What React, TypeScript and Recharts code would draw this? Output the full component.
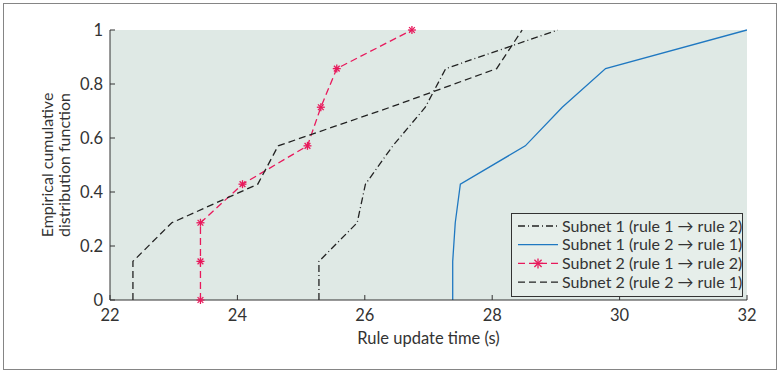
import { LineChart, Line, XAxis, YAxis, CartesianGrid } from 'recharts';

// CDF levels shared by every series (7 samples each)
const cdfLevels = [0, 0.143, 0.286, 0.429, 0.571, 0.714, 0.857, 1];

// update times (s)
const subnet1Rule12 = [25.28, 25.28, 25.88, 26.01, 26.44, 26.95, 27.27, 29.03];
const subnet1Rule21 = [27.38, 27.38, 27.42, 27.5, 28.52, 29.1, 29.78, 32];
const subnet2Rule12 = [23.42, 23.42, 23.42, 24.08, 25.1, 25.31, 25.56, 26.74];
const subnet2Rule21 = [22.36, 22.36, 22.97, 24.32, 24.64, 26.4, 28.07, 28.47];

const xTicks = [22, 24, 26, 28, 30, 32];
const yTicks = [0, 0.2, 0.4, 0.6, 0.8, 1];

const FONT = 'Lato, "Noto Sans", sans-serif';
const PINK = '#e8195c';
const BLUE = '#1f78c1';
const INK = '#222';

const toPts = (xs: number[]) => xs.map((x, i) => ({ x, y: cdfLevels[i] }));

const series = [
  { name: 'Subnet 1 (rule 1 \u2192 rule 2)', data: toPts(subnet1Rule12), color: INK, dash: '7 3 1 3', star: false },
  { name: 'Subnet 1 (rule 2 \u2192 rule 1)', data: toPts(subnet1Rule21), color: BLUE, dash: undefined, star: false },
  { name: 'Subnet 2 (rule 1 \u2192 rule 2)', data: toPts(subnet2Rule12), color: PINK, dash: '7 4', star: true },
  { name: 'Subnet 2 (rule 2 \u2192 rule 1)', data: toPts(subnet2Rule21), color: INK, dash: '7 4', star: false },
];

function Star({ cx, cy, color, r = 4 }: { cx: number; cy: number; color: string; r?: number }) {
  const d = r * 0.72;
  return (
    <g stroke={color} strokeWidth={1.3}>
      <line x1={cx - r} y1={cy} x2={cx + r} y2={cy} />
      <line x1={cx} y1={cy - r} x2={cx} y2={cy + r} />
      <line x1={cx - d} y1={cy - d} x2={cx + d} y2={cy + d} />
      <line x1={cx - d} y1={cy + d} x2={cx + d} y2={cy - d} />
    </g>
  );
}

function StarDot(props: any) {
  const { cx, cy, index } = props;
  if (cx == null || cy == null) return <g key={index} />;
  return <Star key={index} cx={cx} cy={cy} color={PINK} />;
}

function LegendBox() {
  return (
    <div style={{ position: 'absolute', left: 511, top: 213, width: 232, height: 84, boxSizing: 'border-box', border: '1px solid #333', background: '#e6eeea' }}>
      <svg width={230} height={82} style={{ display: 'block' }}>
        {series.map((s, i) => {
          const y = 12 + i * 18.7;
          return (
            <g key={s.name}>
              <line x1={6} y1={y} x2={46} y2={y} stroke={s.color} strokeWidth={1.3} strokeDasharray={s.dash} />
              {s.star && <Star cx={26} cy={y} color={PINK} r={5} />}
              <text x={50} y={y} dy="0.35em" fontSize={16} fill="#333" fontFamily={FONT}>{s.name}</text>
            </g>
          );
        })}
      </svg>
    </div>
  );
}

function YLabel(props: any) {
  const { viewBox } = props;
  const cy = viewBox.y + viewBox.height / 2;
  return (
    <text transform={`translate(55, ${cy}) rotate(-90)`} textAnchor="middle" fontSize={16} fill="#333" fontFamily={FONT}>
      <tspan x={0} dy="-0.15em">Empirical cumulative</tspan>
      <tspan x={0} dy="1.1em">distribution function</tspan>
    </text>
  );
}

export default function App() {
  const tickStyle = { fill: '#333', fontSize: 16.5, fontFamily: FONT };
  return (
    <div style={{ position: 'absolute', left: 0, top: 0, width: 782, height: 373, background: '#fff' }}>
      <div style={{ position: 'absolute', left: 3, top: 3, width: 772, height: 365, border: '1.5px solid #858585' }} />
      <LineChart width={782} height={373} margin={{ top: 30, right: 35, bottom: 0, left: 0 }} style={{ position: 'absolute', left: 0, top: 0 }}>
        <CartesianGrid fill="#dfe9e5" stroke="none" />
        <XAxis
          dataKey="x" type="number" domain={[22, 32]} ticks={xTicks} height={73}
          tickSize={-5} tickMargin={14} tick={tickStyle}
          axisLine={{ stroke: '#333' }} tickLine={{ stroke: '#333' }}
          label={{ value: 'Rule update time (s)', position: 'insideBottom', offset: 29, fill: '#333', fontSize: 16.5, fontFamily: FONT }}
          allowDataOverflow
        />
        <XAxis
          xAxisId="top" orientation="top" dataKey="x" type="number" domain={[22, 32]} ticks={xTicks} height={0}
          tickSize={-5} tickFormatter={() => ''} axisLine={{ stroke: '#333' }} tickLine={{ stroke: '#333' }}
        />
        <YAxis
          type="number" domain={[0, 1]} ticks={yTicks} width={110}
          tickSize={-5} tickMargin={12} tick={tickStyle}
          axisLine={{ stroke: '#333' }} tickLine={{ stroke: '#333' }}
          label={<YLabel />}
        />
        <YAxis
          yAxisId="right" orientation="right" type="number" domain={[0, 1]} ticks={yTicks} width={0}
          tickSize={-5} tickFormatter={() => ''} axisLine={{ stroke: '#333' }} tickLine={{ stroke: '#333' }}
        />
        {series.map((s) => (
          <Line
            key={s.name} data={s.data} dataKey="y" name={s.name} type="linear"
            stroke={s.color} strokeWidth={1.3} strokeDasharray={s.dash}
            dot={s.star ? <StarDot /> : false} activeDot={false}
            isAnimationActive={false}
          />
        ))}
      </LineChart>
      <LegendBox />
    </div>
  );
}
